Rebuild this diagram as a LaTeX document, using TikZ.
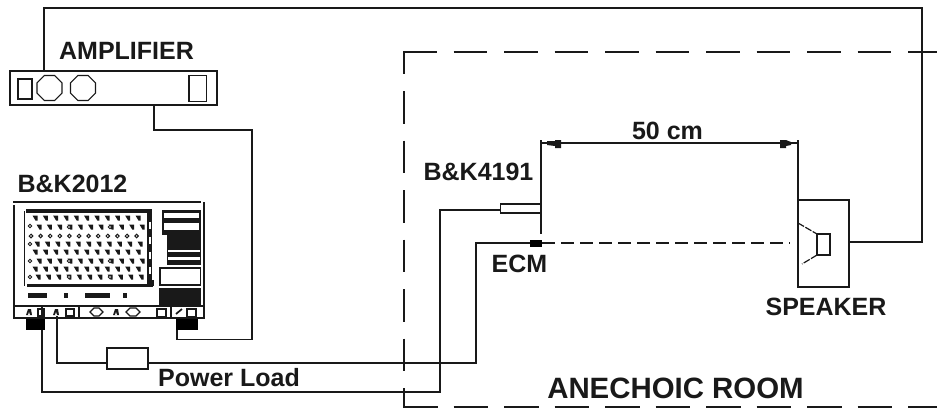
\documentclass[tikz,border=0pt]{standalone}
\usepackage{fontspec}
\usetikzlibrary{shapes.geometric}
\setmainfont{Liberation Sans}
\definecolor{ink}{gray}{0.1}
\tikzset{
  x=1pt,y=-1pt,
  wire/.style={draw=ink,line width=1.7pt,line join=miter},
  box/.style={draw=ink,line width=1.7pt,fill=white,rectangle,inner sep=0pt},
  solid block/.style={fill=black,draw=none,rectangle,inner sep=0pt},
  knob/.style={draw=ink,line width=1.2pt,regular polygon,regular polygon sides=8,minimum size=27pt,inner sep=0pt},
  lab/.style={font=\bfseries\fontsize{#1}{#1}\selectfont,text=ink,inner sep=0pt,anchor=center},
  lab/.default=25,
  thin part/.style={draw=ink,line width=1.2pt},
  thick part/.style={draw=ink,line width=1.7pt},
  room line/.style={draw=ink,line width=2pt},
  mark shape/.style={fill=ink}
}
\begin{document}
\begin{tikzpicture}
\useasboundingbox (0,0) rectangle (937,408);
% room
\draw[room line,dash pattern=on 33.5pt off 17pt] (403,52) -- (937,52);
\draw[room line,dash pattern=on 34.5pt off 16pt] (403,406.5) -- (937,406.5);
\draw[room line,dash pattern=on 32.5pt off 17pt,dash phase=10.5pt] (404,52) -- (404,407);
% coordinates
\coordinate (tr) at (922,8);
\coordinate (tl) at (44,8);
% main boxes
\node[box,minimum width=207pt,minimum height=34pt] (amp) at (113.5,88) {};
\node[box,minimum width=51pt,minimum height=87pt] (spk) at (823.5,243.5) {};
\node[box,minimum width=41pt,minimum height=21pt] (load) at (127.5,358.5) {};
\node[box,minimum width=40.5pt,minimum height=9pt] (mic) at (520.7,208.5) {};
\node[solid block,minimum width=12pt,minimum height=7pt] (ecm) at (536,243) {};
\node[solid block,minimum width=22pt,minimum height=12pt] (outR) at (187,324) {};
\node[solid block,minimum width=19pt,minimum height=12pt] (outL) at (35.5,324) {};
\coordinate (inP) at (57,316);
\coordinate (micIn) at (500.5,210);
\coordinate (loadW) at (107,363);
\coordinate (loadE) at (148,363);
\coordinate (spkE) at (849,242);
\coordinate (spkW) at (790,243);
% amp details
\draw[thin part,line width=1.4pt] (18,79) rectangle (32,99);
\node[knob] (k1) at (49.5,88) {};
\node[knob] (k2) at (83,88) {};
\draw[thick part] (189,75.5) rectangle (206.5,101.5);
% connectors
\draw[wire] (44,71) -- (tl) -- (tr) |- (spkE);
\draw[wire] (154,105) |- (252,130) |- (177,339.5) -- (177,330);
\draw[wire] (inP) |- (loadW) (loadE) -- (476,363) |- (ecm.west);
\draw[wire] (42,330) |- (440,392) |- (micIn);
\draw[wire,dash pattern=on 13pt off 6pt] (ecm.east) -- (spkW);
% B&K body
\draw[thick part] (13,202) -- (201,202);
\draw[thick part] (14,205) -- (14,319);
\draw[thick part] (204,202) -- (204,319);
\draw[thick part] (14,306) -- (204,306);
\draw[thick part] (14,318) -- (204,318);
% screen
\draw[thick part] (24.5,211) -- (24.5,286);
\fill[ink] (26,209) rectangle (152,213);
\fill[ink] (27,283.5) rectangle (153,286.5);
\foreach \yy/\sh in {218/0,227/4,244/2,252/0,261/4,269/0,277/3}{
  \foreach \c in {0,...,10}{
    \pgfmathsetmacro{\xx}{34+\c*10.3+\sh}
    \fill[mark shape] (\xx-1.5,\yy-2.5) -- ++(5,0) -- ++(0,5) -- ++(-2,0) -- cycle;
  }
}
\foreach \c in {0,...,11}{
  \pgfmathsetmacro{\xx}{31+\c*9.6}
  \filldraw[fill=white,draw=ink,line width=1pt] (\xx,236) circle (1.8);
}
\foreach \xa/\ya in {30/226,30/244,30/261,30/277,69/227,110/227,69/261,110/261,69/277,110/277}{
  \filldraw[fill=white,draw=ink,line width=.8pt] (\xa,\ya) circle (1.8);
}
\fill[ink] (147,209) rectangle (152,287);
\foreach \yy in {222,237,252,267}{\fill[white] (148.5,\yy) rectangle (150.5,\yy+7);}
\fill[ink] (150,280) rectangle (154,286);
% right panel
\fill[ink] (162,210) rectangle (201,235);
\fill[white] (164,213) rectangle (199,218);
\fill[white] (164,223) rectangle (199,230);
\fill[ink] (167,235) rectangle (201,265);
\fill[white] (168,250) rectangle (200,252);
\fill[white] (168,257) rectangle (200,260);
\draw[thick part] (160,268) rectangle (200.5,285);
\fill[ink] (159,288) rectangle (201,306);
% lower marks
\fill[ink] (28,292.5) rectangle (47,298);
\fill[ink] (64,292.5) rectangle (68,298);
\fill[ink] (85,292.5) rectangle (110,298);
\fill[ink] (123,292.5) rectangle (127,298);
% ports
\foreach \a in {29,56,116}{\fill[ink] (\a-3,315) -- (\a-1,309) -- (\a+2,309) -- (\a+3,315) -- cycle;\fill[white] (\a-1,315) -- (\a,312) -- (\a+1,315) -- cycle;}
\draw[thin part] (38,309) -- (44,309) -- (44,316) -- (38,316) -- cycle;
\draw[thin part] (66,309) -- (74,309) -- (74,316) -- (66,316) -- cycle;
\draw[thin part] (79,307) -- (79,317) (42,307) -- (42,317);
\draw[thin part] (90,312) -- (94,308) -- (99,308) -- (103,312) -- (99,316) -- (94,316) -- cycle;
\draw[thin part] (126,312) -- (130,308) -- (136,308) -- (140,312) -- (136,316) -- (130,316) -- cycle;
\draw[thick part] (157,309) rectangle (166,317);
\draw[thick part] (171,307) -- (171,317) (176,314) -- (182,309);
\draw[thick part] (187,309) rectangle (196,317);
% speaker details
\draw[thick part] (817,234) rectangle (830,255);
\draw[thin part,dash pattern=on 7pt off 1.5pt] (798,223) -- (817,234);
\draw[thin part,dash pattern=on 7pt off 1.5pt] (817,255) -- (802,264);
% dimension
\coordinate (dimL) at (541,143);
\coordinate (dimR) at (798,143);
\draw[thick part] (541,140) -- (541,234);
\draw[thick part] (798,140) -- (798,200);
\draw[thick part] (dimL) -- (dimR);
\fill[ink] (547,141) -- (555,141) -- (555,140) -- (561,140) -- (561,148) -- (555,148) -- (555,146) -- (547,145) -- cycle;
\fill[ink] (780,140) -- (786,140) -- (791,142) -- (791,145) -- (786,146) -- (786,148) -- (780,148) -- cycle;
% labels
\node[lab] (tAmp) at (126.5,51) {AMPLIFIER};
\node[lab] (tBK) at (72.5,184) {B\&K2012};
\node[lab] (tBK2) at (478.5,172) {B\&K4191};
\node[lab] (tE) at (519.5,264) {ECM};
\node[lab] (t50) at (667.5,131) {50 cm};
\node[lab] (tS) at (826,307) {SPEAKER};
\node[lab] (tP) at (229,378) {Power Load};
\node[lab=29.4] (tR) at (675.5,388) {ANECHOIC ROOM};
\end{tikzpicture}
\end{document}
